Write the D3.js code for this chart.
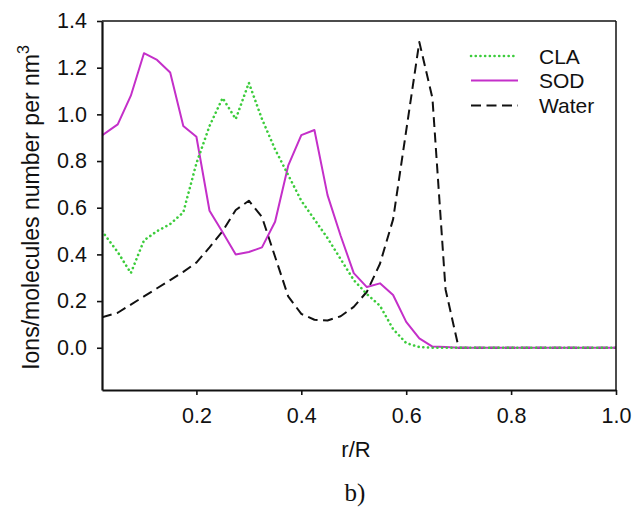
<!DOCTYPE html>
<html>
<head>
<meta charset="utf-8">
<script src="https://cdn.jsdelivr.net/npm/d3@7"></script>
<style>
  html, body { margin: 0; padding: 0; background: #fff; }
  svg { display: block; }
  text { fill: #111; }
</style>
</head>
<body>
<script>
// ---- data ----
const rValues = [0.02, 0.05, 0.075, 0.1, 0.125, 0.15, 0.175, 0.2, 0.225, 0.25,
  0.275, 0.3, 0.325, 0.35, 0.375, 0.4, 0.425, 0.45, 0.475, 0.5,
  0.525, 0.55, 0.575, 0.6, 0.625, 0.65, 0.675, 0.7, 0.725, 0.75,
  0.775, 0.8, 0.825, 0.85, 0.875, 0.9, 0.925, 0.95, 0.975, 1.0];
const claValues = [0.50, 0.41, 0.32, 0.46, 0.50, 0.53, 0.58, 0.79, 0.95, 1.07,
  0.98, 1.135, 0.98, 0.85, 0.74, 0.63, 0.55, 0.47, 0.38, 0.29,
  0.23, 0.18, 0.08, 0.02, 0.003, 0, 0, 0, 0, 0,
  0, 0, 0, 0, 0, 0, 0, 0, 0, 0];
const sodValues = [0.91, 0.957, 1.08, 1.262, 1.233, 1.179, 0.95, 0.904, 0.587, 0.495,
  0.40, 0.41, 0.43, 0.54, 0.78, 0.911, 0.933, 0.654, 0.48, 0.32,
  0.26, 0.276, 0.226, 0.111, 0.04, 0.005, 0.003, 0, 0, 0,
  0, 0, 0, 0, 0, 0, 0, 0, 0, 0];
const waterValues = [0.13, 0.15, 0.185, 0.22, 0.255, 0.29, 0.325, 0.365, 0.43, 0.50,
  0.59, 0.63, 0.56, 0.39, 0.22, 0.145, 0.12, 0.117, 0.135, 0.175,
  0.24, 0.36, 0.55, 0.93, 1.31, 1.07, 0.25, 0, 0, 0,
  0, 0, 0, 0, 0, 0, 0, 0, 0, 0];
const seriesNames = ["CLA", "SOD", "Water"];
const xTicks = [0.2, 0.4, 0.6, 0.8, 1.0];
const yTicks = [0.0, 0.2, 0.4, 0.6, 0.8, 1.0, 1.2, 1.4];
const xLabel = "r/R";
const yLabel = "Ions/molecules number per nm";
const caption = "b)";

// ---- layout ----
const W = 634, H = 507;
const L = 102, R = 616, T = 21, B = 390;
const SANS = "'Liberation Sans', Arial, sans-serif";
const SERIF = "'Liberation Serif', 'Times New Roman', serif";

const svg = d3.select("body").append("svg").attr("width", W).attr("height", H);
svg.append("rect").attr("width", W).attr("height", H).attr("fill", "#fff");

const x = d3.scaleLinear().domain([0.02, 1.0]).range([L, R]);
const y = d3.scaleLinear().domain([-0.181, 1.4]).range([B, T]);

const styles = {
  CLA:   { color: "#3ccc3c", width: 2.6, dash: "0.1 4.6", cap: "round" },
  SOD:   { color: "#c42fc9", width: 2, dash: null, cap: "butt" },
  Water: { color: "#111111", width: 2, dash: "10 5.5", cap: "butt" }
};
const valuesBy = { CLA: claValues, SOD: sodValues, Water: waterValues };

// plot lines (clip to frame)
svg.append("clipPath").attr("id", "clip").append("rect")
  .attr("x", L).attr("y", T).attr("width", R - L).attr("height", B - T);

const line = d3.line().x(d => x(d[0])).y(d => y(d[1]));
const g = svg.append("g").attr("clip-path", "url(#clip)");
["Water", "SOD", "CLA"].forEach(name => {
  const s = styles[name];
  g.append("path")
    .datum(rValues.map((r, i) => [r, valuesBy[name][i]]))
    .attr("d", line)
    .attr("fill", "none")
    .attr("stroke", s.color)
    .attr("stroke-width", s.width)
    .attr("stroke-linecap", s.cap)
    .attr("stroke-linejoin", "round")
    .attr("stroke-dasharray", s.dash);
});

// frame top/right
svg.append("line").attr("x1", L).attr("x2", R).attr("y1", T).attr("y2", T)
  .attr("stroke", "#111").attr("stroke-width", 1.5);
svg.append("line").attr("x1", R).attr("x2", R).attr("y1", T).attr("y2", B)
  .attr("stroke", "#111").attr("stroke-width", 1.5);

// axes
const xAxis = d3.axisBottom(x).tickValues(xTicks).tickFormat(d3.format(".1f"))
  .tickSizeInner(5).tickSizeOuter(0).tickPadding(13);
const yAxis = d3.axisLeft(y).tickValues(yTicks).tickFormat(d3.format(".1f"))
  .tickSizeInner(5).tickSizeOuter(0).tickPadding(10);

const gx = svg.append("g").attr("transform", `translate(0,${B})`).call(xAxis);
const gy = svg.append("g").attr("transform", `translate(${L},0)`).call(yAxis);
[gx, gy].forEach(a => {
  a.attr("font-family", null).attr("font-size", null);
  a.select(".domain").attr("stroke", "#111").attr("stroke-width", 2.2);
  a.selectAll(".tick line").attr("stroke", "#111").attr("stroke-width", 1.6);
  a.selectAll(".tick text").style("font-size", "21.5px")
    .style("font-family", SANS).attr("fill", "#111");
});

// axis labels
svg.append("text").attr("x", (L + R) / 2 - 3).attr("y", 457)
  .attr("text-anchor", "middle").style("font-family", SANS)
  .style("font-size", "22px").text(xLabel);

const yl = svg.append("text")
  .attr("transform", `translate(39,${(T + B) / 2 + 2}) rotate(-90)`)
  .attr("text-anchor", "middle").style("font-family", SANS).style("font-size", "23px");
yl.append("tspan").text(yLabel);
yl.append("tspan").style("font-size", "16px").attr("dy", -10).text("3");

// caption
svg.append("text").attr("x", 355).attr("y", 501).attr("text-anchor", "middle")
  .style("font-family", SERIF).style("font-size", "25px").text(caption);

// legend
const legY = [56, 80.5, 105.5];
seriesNames.forEach((name, i) => {
  const s = styles[name];
  svg.append("line").attr("x1", 471).attr("x2", 518)
    .attr("y1", legY[i]).attr("y2", legY[i])
    .attr("stroke", s.color).attr("stroke-width", s.width)
    .attr("stroke-linecap", s.cap).attr("stroke-dasharray", s.dash);
  svg.append("text").attr("x", 539).attr("y", legY[i]).attr("dy", "0.36em")
    .style("font-family", SANS).style("font-size", "21px").text(name);
});
</script>
</body>
</html>
